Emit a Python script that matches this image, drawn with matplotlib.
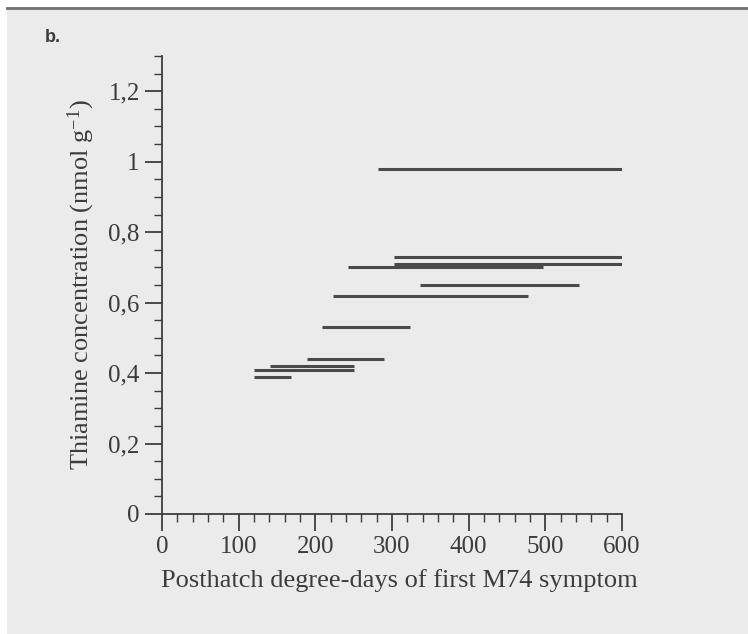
import matplotlib
matplotlib.use("Agg")
import matplotlib.pyplot as plt
from matplotlib.patches import Rectangle
from matplotlib.ticker import MultipleLocator, FuncFormatter

# interval segments: start, end (degree-days) and thiamine level
x_start = [282, 303, 303, 242, 336, 223, 209, 189, 141, 120, 120]
x_end = [600, 600, 600, 497, 544, 478, 323, 290, 250, 250, 168]
thiamine = [0.98, 0.73, 0.71, 0.70, 0.65, 0.62, 0.53, 0.44, 0.42, 0.41, 0.39]

xticks = [0, 100, 200, 300, 400, 500, 600]
yticks = [0, 0.2, 0.4, 0.6, 0.8, 1.0, 1.2]

ink = "#3c3c3c"
panel = "#ebebeb"

plt.rcParams["font.family"] = ["Liberation Serif", "DejaVu Serif"]
plt.rcParams["mathtext.fontset"] = "custom"
plt.rcParams["mathtext.rm"] = "Liberation Serif"
plt.rcParams["mathtext.it"] = "Liberation Serif:italic"

fig = plt.figure(figsize=(7.48, 6.34), dpi=100, facecolor="white")

# grey panel with dark rule at the top, on its own background axes
bg = fig.add_axes([0, 0, 1, 1], zorder=-1)
bg.set_xlim(0, 748)
bg.set_ylim(634, 0)
bg.axis("off")
bg.add_patch(Rectangle((7, 9), 741, 625, facecolor=panel, edgecolor="none"))
bg.plot([7, 748], [8, 8], color="#707070", lw=2.0)

ax = fig.add_axes([162 / 748, 1 - 514 / 634, 460 / 748, 458 / 634], zorder=2)
ax.set_facecolor("none")

for x0, x1, y in zip(x_start, x_end, thiamine):
    ax.plot([x0, x1], [y, y], color="#4a4a4a", lw=2.2, solid_capstyle="butt")

ax.set_xlim(0, 600)
ax.set_ylim(0, 1.3)
ax.set_xticks(xticks)
ax.set_yticks(yticks)
ax.xaxis.set_minor_locator(MultipleLocator(20))
ax.yaxis.set_minor_locator(MultipleLocator(0.05))
ax.yaxis.set_major_formatter(FuncFormatter(lambda v, p: ("%g" % round(v, 2)).replace(".", ",")))

for s in ["top", "right"]:
    ax.spines[s].set_visible(False)
for s in ["left", "bottom"]:
    ax.spines[s].set_color(ink)
    ax.spines[s].set_linewidth(1.3)

ax.tick_params(which="major", length=12, width=1.3, color=ink, labelsize=18, labelcolor=ink, pad=4)
ax.tick_params(which="minor", length=6, width=1.0, color=ink)

ax.set_xlabel("Posthatch degree-days of first M74 symptom", fontsize=19, color=ink,
              labelpad=8, x=0.515)
ax.set_ylabel("Thiamine concentration (nmol g$^{\u22121}$)", fontsize=19, color=ink, labelpad=8)

fig.text(45 / 748, 1 - 42 / 634, "b.", fontsize=13, fontweight="bold", color=ink,
         family=["Liberation Sans", "DejaVu Sans"])

fig.savefig("out.png", dpi=100, facecolor="white")
